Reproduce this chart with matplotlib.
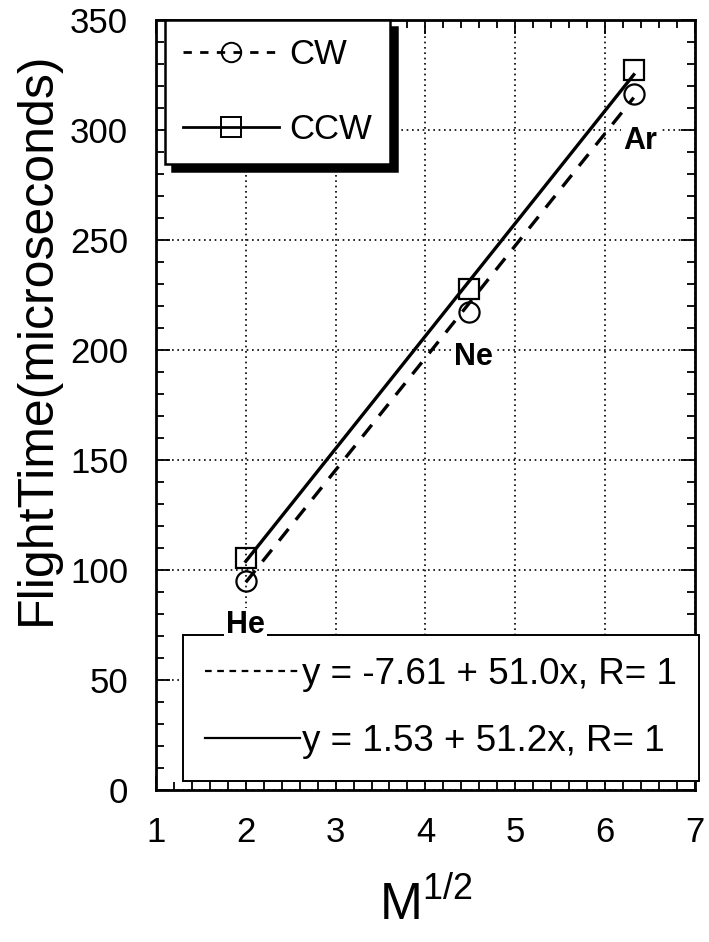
import numpy as np
import matplotlib
matplotlib.use("Agg")
import matplotlib.pyplot as plt
from matplotlib.lines import Line2D
from matplotlib.ticker import MultipleLocator

plt.rcParams['font.family'] = ['Liberation Sans', 'DejaVu Sans']

# --- data ---
gases = ["He", "Ne", "Ar"]
sqrtMass = [2.0, 4.49, 6.32]          # M^(1/2)
flightCW = [95.0, 217.4, 316.4]       # microseconds
flightCCW = [105.5, 227.5, 327.2]

# linear fits (intercept, slope)
fitCW = (-7.61, 51.0)
fitCCW = (1.53, 51.2)
fitLabels = ["y = -7.61 + 51.0x, R= 1", "y = 1.53 + 51.2x, R= 1"]

# label anchor points for each gas
labelX = [2.0, 4.53, 6.39]
labelY = [75.0, 196.8, 295.0]

fig = plt.figure(figsize=(7.09, 9.42), dpi=100)
ax = fig.add_axes([0.22, 0.1614, 0.760, 0.8174])

x = np.array(sqrtMass)
xfit = np.array([x.min(), x.max()])

dash = (0, (4.5, 3.5))
ax.plot(x, flightCW, ls='none', marker='o', ms=14.5, mfc='none', mec='black', mew=1.6, zorder=4)
ax.plot(x, flightCCW, ls='none', marker='s', ms=15, mfc='none', mec='black', mew=1.6, zorder=4)
ax.plot(xfit, fitCW[0] + fitCW[1] * xfit, color='black', lw=2.4, ls=dash, zorder=3)
ax.plot(xfit, fitCCW[0] + fitCCW[1] * xfit, color='black', lw=2.4, ls='-', zorder=3)

for name, lx, ly in zip(gases, labelX, labelY):
    ax.text(lx, ly, name, ha='center', va='center', fontsize=22, fontweight='bold',
            bbox=dict(facecolor='white', edgecolor='none', pad=1.5), zorder=7)

ax.set_xlim(1, 7)
ax.set_ylim(0, 350)
ax.xaxis.set_major_locator(MultipleLocator(1))
ax.xaxis.set_minor_locator(MultipleLocator(0.2))
ax.yaxis.set_major_locator(MultipleLocator(50))
ax.yaxis.set_minor_locator(MultipleLocator(10))
ax.tick_params(which='both', direction='in', top=True, right=True, width=1.3, colors='black')
ax.tick_params(which='major', length=10, labelsize=25)
ax.tick_params(axis='x', which='major', pad=19)
ax.tick_params(axis='y', which='major', pad=20)
ax.tick_params(which='minor', length=5.5)
ax.grid(True, which='major', color='black', ls=(0, (1, 2.2)), lw=1.2)
for s in ax.spines.values():
    s.set_linewidth(2)

ax.set_xlabel(r'M$^{\mathregular{1/2}}$', fontsize=37)
ax.xaxis.set_label_coords(0.5, -0.117)
ax.set_ylabel('FlightTime(microseconds)', fontsize=36)
ax.yaxis.set_label_coords(-0.178, 0.587)

# series legend
h1 = [Line2D([], [], color='black', lw=2, ls=(0, (3, 3)), marker='o', ms=14, mfc='none', mec='black', mew=1.4),
      Line2D([], [], color='black', lw=2, ls='-', marker='s', ms=15, mfc='none', mec='black', mew=1.4)]
leg1 = ax.legend(h1, ["CW", "CCW"], loc='upper left', bbox_to_anchor=(0.017, 1.0), fontsize=25,
                 handlelength=2.75, handletextpad=0.3, labelspacing=1.2, borderpad=0.52,
                 borderaxespad=0, fancybox=False, framealpha=1, edgecolor='black',
                 shadow={'ox': 5, 'oy': -5, 'facecolor': 'black', 'edgecolor': 'black', 'alpha': 1})
leg1.get_frame().set_linewidth(1.8)
ax.add_artist(leg1)

# fit legend
h2 = [Line2D([], [], color='black', lw=1.6, ls=(0, (3, 2.5))),
      Line2D([], [], color='black', lw=1.6, ls='-')]
leg2 = ax.legend(h2, fitLabels, loc='lower right', bbox_to_anchor=(1.008, 0.012), fontsize=26.5,
                 handlelength=2.6, handletextpad=0.05, labelspacing=0.85, borderpad=0.6,
                 borderaxespad=0, fancybox=False, framealpha=1, edgecolor='black')
leg2.get_frame().set_linewidth(1.4)
leg2.set_zorder(5)

fig.savefig("out.png", dpi=100)
